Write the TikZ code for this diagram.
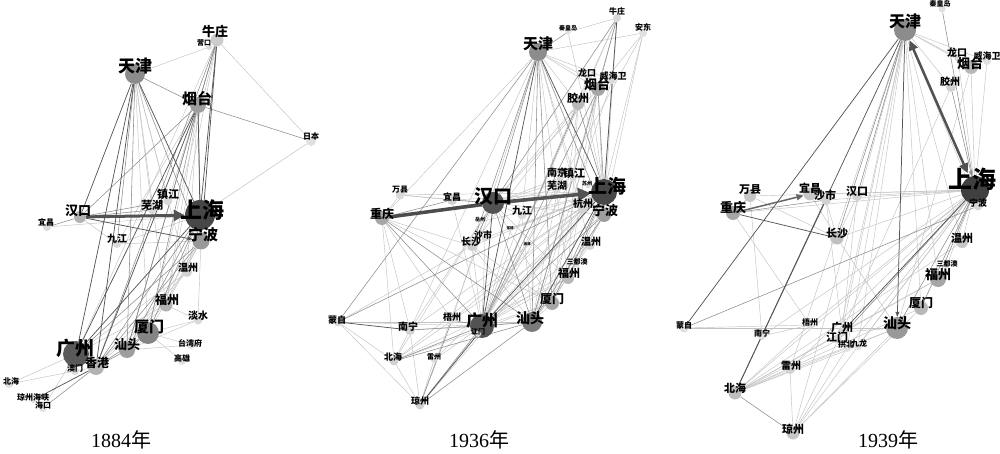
\documentclass[tikz,border=0pt]{standalone}
\usepackage{fontspec}
\setmainfont{Liberation Serif}
\newfontfamily\cjk{Noto Sans CJK SC}
\usetikzlibrary{arrows.meta}
\pgfdeclarelayer{bg}
\pgfsetlayers{bg,main}
\tikzset{
  dot/.style={circle,inner sep=0pt,draw=none},
  lab/.style={inner sep=0pt,text=black},
  ea/.style={draw=black!24,line width=0.45pt},
  eb/.style={draw=black!45,line width=0.55pt},
  ec/.style={draw=black!66,line width=0.75pt},
  big/.style={draw=black!68,line width=3pt,-{Triangle[length=11pt,width=11pt]}},
  yr/.style={inner sep=0pt,font=\fontsize{20}{20}\selectfont}
}
\newcommand\cty[8]{%
  \node[dot,minimum size=#4,fill=#5] (#1) at (#2,#3) {};
  \node[lab,font=\cjk\bfseries\fontsize{#7}{#7}\selectfont] (#1t) at (#8) {#6};}
\begin{document}
\begin{tikzpicture}[x=1pt,y=-1pt]
\useasboundingbox (0,0) rectangle (1000,454);
% ---------------- 1884 ----------------
\cty{aNZ}{217}{40}{13}{black!20}{牛庄}{13}{215,31}
\cty{aYK}{209}{47}{6}{black!15}{营口}{7}{204,43}
\cty{aTJ}{135}{74}{20}{black!45}{天津}{17}{135,66}
\cty{aYT}{198}{105}{16}{black!38}{烟台}{15}{197,99}
\cty{aRB}{311}{141}{10}{black!12}{日本}{8}{311,136}
\cty{aZJ}{168}{201}{9}{black!15}{镇江}{11}{168,194}
\cty{aWH}{152}{210}{8}{black!15}{芜湖}{11}{152,205}
\cty{aSH}{200}{215}{30}{black!72}{上海}{22}{202,210}
\cty{aHK}{80}{217}{12}{black!30}{汉口}{13}{78,211}
\cty{aYC}{47}{227}{8}{black!15}{宜昌}{8}{46,222}
\cty{aJJ}{117}{244}{8}{black!15}{九江}{10}{117,239}
\cty{aNB}{201}{241}{17}{black!40}{宁波}{15}{203,235}
\cty{aWZ}{187}{272}{10}{black!18}{温州}{10}{188,268}
\cty{aFZ}{166}{305}{13}{black!30}{福州}{12}{167,300}
\cty{aDS}{198}{320}{9}{black!15}{淡水}{10}{198,316}
\cty{aXM}{148}{333}{22}{black!48}{厦门}{15}{149,327}
\cty{aTW}{191}{345}{8}{black!12}{台湾府}{8}{190,343}
\cty{aST}{127}{350}{16}{black!38}{汕头}{13}{127,345}
\cty{aGX}{182}{361}{8}{black!12}{高雄}{8}{182,358}
\cty{aGZ}{76}{354}{26}{black!65}{广州}{19}{75,348}
\cty{aAM}{75}{371}{8}{black!15}{澳门}{8}{75,368}
\cty{aXG}{96}{367}{16}{black!30}{香港}{12}{97,363}
\cty{aBH}{9}{384}{8}{black!12}{北海}{8}{11,381}
\cty{aQZ}{33}{400}{6}{black!12}{琼州海峡}{8}{33,397}
\cty{aHKo}{43}{408}{8}{black!12}{海口}{8}{43,405}
\begin{pgfonlayer}{bg}
\foreach \u/\v in {aTJ/aYK,aNZ/aRB,aRB/aSH,aNZ/aGZ,aNZ/aXM,aNZ/aFZ,aTJ/aZJ,aTJ/aWH,aTJ/aFZ,aTJ/aXM,aTJ/aWZ,aYT/aFZ,aYT/aWZ,aYT/aJJ,aYT/aZJ,aYC/aSH,aJJ/aSH,aJJ/aNB,aHK/aJJ,aSH/aFZ,aSH/aWZ,aNB/aST,aNB/aXM,aNB/aFZ,aWZ/aXG,aFZ/aXG,aFZ/aGZ,aDS/aNB,aDS/aXM,aDS/aFZ,aXM/aTW,aST/aTW,aGZ/aAM,aGZ/aBH,aGZ/aHKo,aBH/aXG,aGX/aXM,aWZ/aGZ,aDS/aST}
  \draw[ea] (\u) -- (\v);
\foreach \u/\v in {aYT/aRB,aTJ/aYT,aNZ/aST,aNZ/aXG,aTJ/aST,aTJ/aNB,aTJ/aJJ,aYT/aST,aYT/aHK,aYT/aXM,aYT/aNB,aHK/aZJ,aHK/aWH,aYC/aHK,aSH/aXG,aSH/aST,aSH/aXM,aNB/aXG,aNB/aGZ,aXM/aST,aXM/aXG,aST/aXG,aGZ/aXG,aXG/aHKo,aNZ/aYT}
  \draw[eb] (\u) -- (\v);
\foreach \u/\v in {aNZ/aSH,aNZ/aNB,aTJ/aHK,aTJ/aGZ,aTJ/aXG,aTJ/aSH,aYT/aGZ,aYT/aXG,aYT/aSH,aSH/aGZ,aXG/aQZ}
  \draw[ec] (\u) -- (\v);
\draw[ec,-{Triangle[length=5pt,width=4pt]}] (aHK) -- (aNB);
\draw[big] (aHK) -- (aSH);
\end{pgfonlayer}
\node[yr] (y1) at (121,440) {1884\cjk 年};
% ---------------- 1936 ----------------
\cty{bNZ}{617}{18}{8}{black!15}{牛庄}{8}{617,11}
\cty{bQHD}{568}{32}{5}{black!12}{秦皇岛}{6}{568,28}
\cty{bAD}{643}{33}{8}{black!12}{安东}{8}{643,27}
\cty{bTJ}{538}{52}{18}{black!45}{天津}{15}{538,44}
\cty{bLK}{588}{78}{7}{black!15}{龙口}{9}{587,73}
\cty{bWHW}{612}{80}{8}{black!15}{威海卫}{9}{613,76}
\cty{bYT}{598}{89}{14}{black!35}{烟台}{13}{597,84}
\cty{bJZ}{578}{104}{12}{black!28}{胶州}{11}{578,98}
\cty{bNJ}{560}{178}{7}{black!15}{南京}{10}{557,173}
\cty{bZJ}{573}{178}{7}{black!15}{镇江}{11}{574,173}
\cty{bWH}{557}{189}{8}{black!15}{芜湖}{10}{557,186}
\cty{bSZ}{588}{186}{5}{black!12}{苏州}{5}{587,184}
\cty{bSH}{604}{192}{26}{black!72}{上海}{19}{607,186}
\cty{bHK}{493}{203}{22}{black!68}{汉口}{19}{493,196}
\cty{bWX}{400}{195}{9}{black!15}{万县}{8}{400,190}
\cty{bYC}{452}{200}{10}{black!18}{宜昌}{9}{452,197}
\cty{bCQ}{382}{218}{14}{black!35}{重庆}{12}{382,214}
\cty{bJJ}{522}{215}{9}{black!15}{九江}{10}{522,211}
\cty{bHZ}{583}{208}{10}{black!18}{杭州}{10}{583,204}
\cty{bNB}{604}{215}{14}{black!38}{宁波}{13}{605,210}
\cty{bYZ}{480}{222}{5}{black!12}{岳州}{5}{480,220}
\cty{bSS}{485}{238}{7}{black!15}{沙市}{9}{483,235}
\cty{bCS}{472}{246}{10}{black!20}{长沙}{10}{471,242}
\cty{bTa}{511}{229}{4}{black!12}{常德}{3.5}{510,228}
\cty{bTb}{527}{245}{4}{black!12}{湘潭}{3.5}{527,244}
\cty{bWZ}{590}{245}{10}{black!18}{温州}{10}{591,242}
\cty{bSDA}{577}{265}{5}{black!12}{三都澳}{7}{577,262}
\cty{bFZ}{568}{278}{12}{black!28}{福州}{11}{569,273}
\cty{bXM}{552}{303}{14}{black!35}{厦门}{12}{552,299}
\cty{bST}{532}{322}{20}{black!52}{汕头}{14}{530,318}
\cty{bGZ}{482}{326}{24}{black!68}{广州}{16}{482,320}
\cty{bJM}{478}{334}{6}{black!15}{江门}{7}{478,332}
\cty{bWZh}{452}{320}{8}{black!15}{梧州}{9}{452,317}
\cty{bNN}{410}{330}{10}{black!18}{南宁}{10}{408,327}
\cty{bMZ}{338}{322}{9}{black!15}{蒙自}{9}{337,320}
\cty{bBH}{394}{361}{9}{black!18}{北海}{9}{393,357}
\cty{bLZ}{434}{360}{6}{black!15}{雷州}{7}{434,357}
\cty{bQZ}{420}{405}{9}{black!18}{琼州}{9}{420,401}
\begin{pgfonlayer}{bg}
\foreach \u/\v in {bNZ/bQHD,bAD/bTJ,bAD/bSH,bAD/bNB,bAD/bYT,bNZ/bGZ,bNZ/bST,bNZ/bNB,bTJ/bFZ,bTJ/bWZ,bTJ/bHZ,bTJ/bJJ,bTJ/bCQ,bTJ/bLK,bTJ/bWHW,bTJ/bYT,bTJ/bJZ,bTJ/bWZh,bTJ/bNN,bYT/bHK,bYT/bNB,bYT/bXM,bYT/bFZ,bJZ/bXM,bJZ/bHK,bJZ/bFZ,bJZ/bCS,bLK/bSH,bWHW/bSH,bHK/bWX,bHK/bJJ,bHK/bWH,bHK/bNJ,bHK/bZJ,bHK/bNB,bHK/bXM,bHK/bFZ,bHK/bBH,bHK/bNN,bHK/bQZ,bSH/bWZ,bSH/bNB,bSH/bHZ,bSH/bJJ,bSH/bCS,bSH/bNN,bSH/bBH,bSH/bQZ,bSH/bWZh,bSH/bJM,bSH/bLZ,bSH/bYC,bSH/bWX,bGZ/bXM,bGZ/bFZ,bGZ/bLZ,bGZ/bWZ,bST/bXM,bST/bNN,bST/bFZ,bNB/bXM,bNB/bFZ,bMZ/bBH,bMZ/bQZ,bMZ/bST,bMZ/bGZ,bMZ/bCS,bCQ/bNN,bCQ/bBH,bCQ/bCS,bCQ/bWZh,bCQ/bXM,bCQ/bWX,bNN/bBH,bNN/bQZ,bLZ/bQZ,bBH/bXM,bCS/bST,bCS/bGZ,bCS/bXM,bYC/bGZ,bSS/bSH,bSS/bGZ,bYZ/bSH,bTa/bSH,bTb/bSH,bTa/bGZ,bTb/bGZ,bSDA/bSH,bSDA/bGZ,bWZ/bST,bHZ/bGZ,bHZ/bST,bNB/bBH,bFZ/bBH,bJJ/bGZ,bJJ/bST,bWH/bGZ,bZJ/bGZ,bNJ/bGZ,bNJ/bST,bYC/bWX,bBH/bQZ,bNZ/bJZ,bAD/bGZ,bQHD/bSH,bLK/bGZ,bWHW/bST}
  \draw[ea] (\u) -- (\v);
\foreach \u/\v in {bTJ/bHK,bTJ/bCS,bTJ/bNB,bTJ/bST,bTJ/bXM,bNZ/bYT,bNZ/bHK,bQHD/bTJ,bYT/bSH,bYT/bGZ,bYT/bST,bJZ/bSH,bJZ/bGZ,bHK/bCS,bHK/bYC,bHK/bST,bCQ/bSH,bCQ/bGZ,bCQ/bST,bCQ/bYC,bSH/bXM,bSH/bFZ,bSH/bMZ,bGZ/bBH,bGZ/bQZ,bGZ/bNN,bGZ/bST,bGZ/bWZh,bGZ/bJM,bST/bBH,bST/bQZ,bNB/bGZ,bNB/bST,bWZh/bQZ,bMZ/bTJ}
  \draw[eb] (\u) -- (\v);
\foreach \u/\v in {bTJ/bSH,bTJ/bGZ,bNZ/bSH,bHK/bGZ,bSH/bGZ,bSH/bST,bJM/bQZ,bMZ/bNN}
  \draw[ec] (\u) -- (\v);
\draw[draw=black!70,line width=3.5pt] (bCQ) -- (bHK);
\draw[big,line width=3.5pt,-{Triangle[length=13pt,width=13pt]}] (bHK) -- (bSH);
\end{pgfonlayer}
\node[yr] (y2) at (479,440) {1936\cjk 年};
% ---------------- 1939 ----------------
\cty{cQHD}{942}{9}{7}{black!12}{秦皇岛}{7}{940,4}
\cty{cTJ}{905}{30}{22}{black!45}{天津}{16}{905,21}
\cty{cLK}{958}{58}{7}{black!15}{龙口}{10}{957,53}
\cty{cYT}{971}{67}{14}{black!28}{烟台}{13}{970,63}
\cty{cWHW}{987}{61}{8}{black!12}{威海卫}{9}{987,56}
\cty{cJZ}{951}{87}{10}{black!18}{胶州}{10}{950,82}
\cty{cSH}{975}{190}{28}{black!75}{上海}{24}{972,179}
\cty{cNB}{978}{206}{9}{black!15}{宁波}{9}{978,203}
\cty{cWX}{750}{196}{12}{black!22}{万县}{11}{750,190}
\cty{cYC}{810}{194}{13}{black!22}{宜昌}{11}{810,188}
\cty{cSS}{826}{200}{10}{black!18}{沙市}{11}{825,195}
\cty{cHK}{857}{196}{10}{black!18}{汉口}{11}{857,191}
\cty{cCQ}{733}{213}{14}{black!35}{重庆}{13}{733,208}
\cty{cCS}{837}{238}{13}{black!25}{长沙}{11}{837,233}
\cty{cWZ}{962}{242}{12}{black!22}{温州}{11}{962,238}
\cty{cSDA}{947}{265}{6}{black!12}{三都澳}{7}{947,264}
\cty{cFZ}{938}{279}{16}{black!35}{福州}{13}{938,275}
\cty{cXM}{921}{308}{14}{black!28}{厦门}{12}{921,303}
\cty{cST}{897}{328}{22}{black!40}{汕头}{14}{897,323}
\cty{cGZ}{842}{332}{9}{black!15}{广州}{11}{842,327}
\cty{cJM}{838}{340}{8}{black!15}{江门}{11}{837,337}
\cty{cGB}{847}{348}{8}{black!12}{拱北}{8}{846,344}
\cty{cJL}{858}{346}{8}{black!12}{九龙}{8}{859,343}
\cty{cWZh}{810}{325}{8}{black!12}{梧州}{8}{810,322}
\cty{cNN}{762}{336}{8}{black!12}{南宁}{8}{762,333}
\cty{cMZ}{684}{328}{9}{black!12}{蒙自}{8}{684,325}
\cty{cLZ}{790}{369}{10}{black!18}{雷州}{10}{791,366}
\cty{cBH}{735}{393}{13}{black!25}{北海}{11}{735,388}
\cty{cQZ}{793}{433}{13}{black!22}{琼州}{11}{793,429}
\begin{pgfonlayer}{bg}
\foreach \u/\v in {cTJ/cYT,cTJ/cLK,cTJ/cWHW,cTJ/cJZ,cTJ/cGZ,cTJ/cJM,cTJ/cJL,cTJ/cXM,cTJ/cFZ,cTJ/cWZ,cTJ/cLZ,cTJ/cQZ,cTJ/cNB,cTJ/cGB,cYT/cSH,cLK/cSH,cWHW/cSH,cWX/cSH,cYC/cSH,cSS/cSH,cHK/cSH,cCS/cSS,cCS/cHK,cCS/cYC,cWX/cNN,cCQ/cWZh,cSH/cWZh,cSH/cNN,cSH/cLZ,cSH/cBH,cSH/cQZ,cSH/cCS,cSH/cJL,cSH/cGB,cSH/cSDA,cSH/cWZ,cST/cQZ,cST/cBH,cST/cLZ,cST/cGZ,cXM/cQZ,cFZ/cGZ,cBH/cLZ,cBH/cWZh,cBH/cJM,cBH/cGZ,cLZ/cQZ,cQZ/cJM,cQZ/cGB,cNN/cWZh,cMZ/cWZh,cMZ/cST,cXM/cBH,cFZ/cBH,cWZ/cBH,cJL/cBH,cYT/cST,cJZ/cGZ,cCQ/cSH,cWX/cCS,cHK/cGZ,cSS/cGZ,cCS/cST}
  \draw[ea] (\u) -- (\v);
\foreach \u/\v in {cQHD/cSH,cCQ/cWX,cCQ/cSS,cSH/cST,cSH/cXM,cSH/cFZ,cSH/cNB,cSH/cJM,cBH/cQZ,cMZ/cNB,cTJ/cHK,cTJ/cCS}
  \draw[eb] (\u) -- (\v);
\foreach \u/\v in {cTJ/cBH,cTJ/cMZ,cSS/cBH,cSH/cGZ,cCQ/cCS}
  \draw[ec] (\u) -- (\v);
\draw[eb,-{Triangle[length=5pt,width=4pt]}] (cJZ) -- (cSH);
\draw[ec,-{Triangle[length=5pt,width=4pt]}] (cTJ) -- (cST);
\draw[draw=black!60,line width=1.5pt,-{Triangle[length=7pt,width=6pt]}] (cCQ) -- (cYC);
\draw[draw=black!68,line width=2.5pt,shorten >=4pt,{Triangle[length=10pt,width=9pt]}-{Triangle[length=10pt,width=9pt]}] (cTJ) -- (cSH);
\end{pgfonlayer}
\node[yr] (y3) at (888,440) {1939\cjk 年};
\end{tikzpicture}
\end{document}
